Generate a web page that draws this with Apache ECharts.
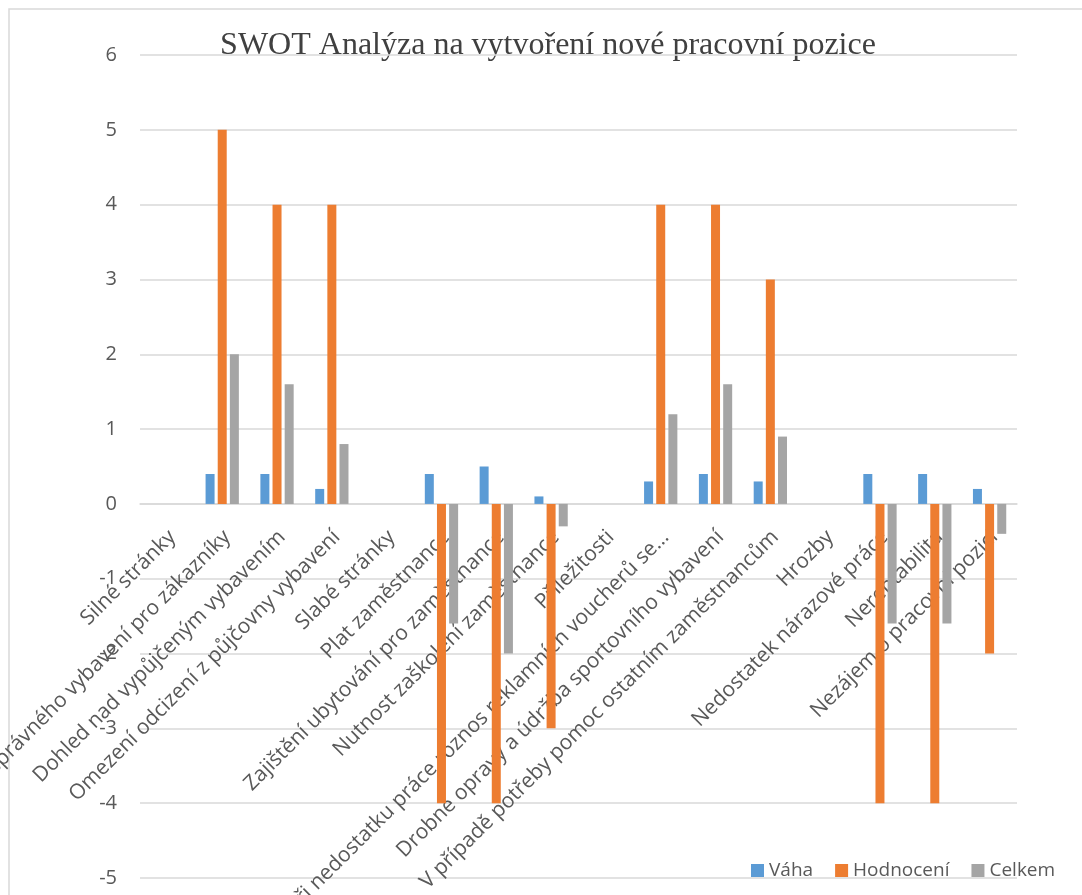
<!DOCTYPE html>
<html>
<head>
<meta charset="utf-8">
<script src="https://cdn.jsdelivr.net/npm/echarts@6/dist/echarts.min.js"></script>
<style>
html,body{margin:0;padding:0;background:#fff;}
#chart{width:1082px;height:895px;}
</style>
</head>
<body>
<div id="chart"></div>
<script>
const titleText = 'SWOT Analýza na vytvoření nové pracovní pozice';
const categories = [
  'Silné stránky',
  'Výběr správného vybavení pro zákazníky',
  'Dohled nad vypůjčeným vybavením',
  'Omezení odcizení z půjčovny vybavení',
  'Slabé stránky',
  'Plat zaměstnance',
  'Zajištění ubytování pro zaměstnance',
  'Nutnost zaškolení zaměstnance',
  'Příležitosti',
  'Při nedostatku práce roznos reklamních voucherů se…',
  'Drobné opravy a údržba sportovního vybavení',
  'V případě potřeby pomoc ostatním zaměstnancům',
  'Hrozby',
  'Nedostatek nárazové práce',
  'Nerentabilita',
  'Nezájem o pracovní pozici'
];
const seriesNames = ['Váha', 'Hodnocení', 'Celkem'];
const vaha      = [0, 0.4, 0.4, 0.2, 0, 0.4, 0.5, 0.1, 0, 0.3, 0.4, 0.3, 0, 0.4, 0.4, 0.2];
const hodnoceni = [0, 5, 4, 4, 0, -4, -4, -3, 0, 4, 4, 3, 0, -4, -4, -2];
const celkem    = [0, 2, 1.6, 0.8, 0, -1.6, -2, -0.3, 0, 1.2, 1.6, 0.9, 0, -1.6, -1.6, -0.4];
const yMin = -5, yMax = 6, yStep = 1;
const colors = ['#5B9BD5', '#ED7D31', '#A5A5A5'];

const gridTop = 55, gridBottom = 17, chartH = 895;
const plotH = chartH - gridTop - gridBottom;
// distance from the bottom of the plot to the value 0, from the axis scale
const zeroOffset = plotH * (0 - yMin) / (yMax - yMin);

const chart = echarts.init(document.getElementById('chart'), null, {renderer: 'canvas'});
const font = '"Open Sans", "Noto Sans", sans-serif';
const makeBar = (name, data, color) => ({
  name, type: 'bar', data, barWidth: 9, barGap: '35%',
  itemStyle: {color}, emphasis: {disabled: true}
});
chart.setOption({
  animation: false,
  color: colors,
  graphic: [
    {type: 'rect', shape: {x: 9, y: 9, width: 1200, height: 1000}, style: {fill: 'none', stroke: '#D9D9D9', lineWidth: 1.5}, silent: true},
    {type: 'text', x: 548, y: 46, style: {text: titleText, font: '32px "Liberation Serif", "Times New Roman", serif', fill: '#404040', align: 'center', verticalAlign: 'middle'}, silent: true}
  ],
  legend: {
    data: seriesNames, left: 751, top: 861, itemWidth: 13, itemHeight: 13, itemGap: 22,
    icon: 'rect', padding: 0,
    textStyle: {fontSize: 19, color: '#595959', fontFamily: font}
  },
  grid: {left: 140, right: 65, top: gridTop, bottom: gridBottom, containLabel: false, outerBoundsMode: 'none'},
  xAxis: {
    type: 'category', data: categories, position: 'bottom', offset: -zeroOffset,
    axisLine: {show: true, onZero: false, lineStyle: {color: '#D9D9D9', width: 1.5}},
    axisTick: {show: false},
    axisLabel: {interval: 0, rotate: 45, margin: 25, align: 'right', verticalAlign: 'top',
      lineHeight: 14, fontSize: 21, color: '#595959', fontFamily: font}
  },
  yAxis: {
    type: 'value', min: yMin, max: yMax, interval: yStep,
    axisLine: {show: false}, axisTick: {show: false},
    axisLabel: {fontSize: 20, color: '#595959', fontFamily: font, margin: 23},
    splitLine: {lineStyle: {color: '#D9D9D9', width: 1.5}}
  },
  series: [
    makeBar(seriesNames[0], vaha, colors[0]),
    makeBar(seriesNames[1], hodnoceni, colors[1]),
    makeBar(seriesNames[2], celkem, colors[2])
  ]
});
</script>
</body>
</html>
